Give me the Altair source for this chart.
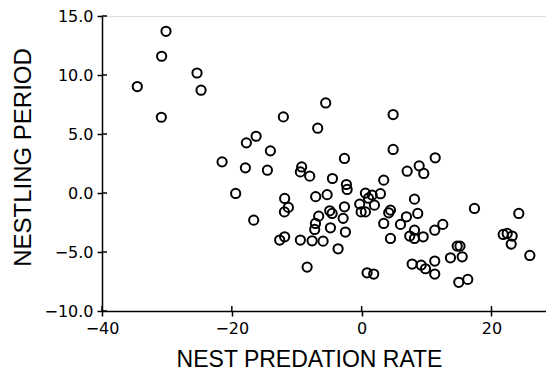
import altair as alt
import pandas as pd

# Nest predation rate (x) and nestling period (y) residuals
predation = [
    -34.56, -30.14, -30.81, -25.36, -24.74, -30.86, -12.06, -16.26, -17.76, -14.06,
    -21.50, -17.91, -14.52, -19.41, -5.54, -6.77, 4.85, 4.85, -2.65, 11.33,
    -9.24, -9.44, -8.00, -4.50, 7.01, 8.86, 9.57, 3.40, -2.35, -2.24,
    -11.86, -7.08, -5.32, 0.58, 1.62, 2.89, 8.14, -11.29, -11.90, -6.62,
    -7.12, -7.23, -4.92, -4.55, -2.65, -2.85, -4.81, -2.50, -0.30, -0.08,
    0.58, 1.97, 1.05, 4.44, 4.17, 3.40, 5.98, 6.90, 8.64, 8.14,
    7.41, 8.14, 9.48, 4.44, 11.26, 12.50, 17.38, 24.21, 21.81, 22.42,
    23.19, 23.04, 25.91, 14.72, 15.15, 15.49, 13.68, 11.26, 7.78, 9.17,
    9.83, 11.26, 14.96, 16.35, 0.84, 1.86, -8.40, -3.63, -9.44, -7.63,
    -5.94, -12.63, -11.86, -16.63,
]
nestling = [
    9.02, 13.70, 11.59, 10.17, 8.71, 6.42, 6.45, 4.81, 4.25, 3.57,
    2.64, 2.13, 1.93, -0.04, 7.63, 5.49, 6.65, 3.69, 2.93, 2.98,
    2.21, 1.79, 1.43, 1.23, 1.85, 2.30, 1.66, 1.09, 0.72, 0.30,
    -0.46, -0.31, -0.14, -0.01, -0.18, -0.06, -0.52, -1.22, -1.60, -1.96,
    -2.58, -3.09, -1.51, -1.73, -1.17, -2.15, -2.95, -3.31, -0.94, -1.60,
    -1.60, -1.03, -0.44, -1.45, -1.68, -2.58, -2.66, -2.02, -1.73, -3.15,
    -3.65, -3.85, -3.71, -3.85, -3.15, -2.66, -1.31, -1.73, -3.51, -3.43,
    -3.65, -4.33, -5.29, -4.50, -4.50, -5.41, -5.49, -5.77, -6.02, -6.11,
    -6.42, -6.87, -7.57, -7.32, -6.76, -6.87, -6.28, -4.73, -3.99, -4.05,
    -4.08, -3.99, -3.71, -2.30,
]
x_ticks = [-40, -20, 0, 20]
y_ticks = [-10, -5, 0, 5, 10, 15]

df = pd.DataFrame({"rate": predation, "period": nestling})
xt = pd.DataFrame({"v": x_ticks})
yt = pd.DataFrame({"v": y_ticks})

W, H = 444, 295
LFONT = "DejaVu Sans"
TFONT = "Liberation Sans"

xscale = alt.Scale(domain=[-40, 28.4], nice=False, zero=False)
yscale = alt.Scale(domain=[-10, 15], nice=False, zero=False)

common = dict(grid=False, tickSize=5, tickWidth=1.5, domainWidth=1.5,
              domainColor="black", tickColor="black", labelFontSize=16,
              labelFont=LFONT, labelColor="black", labelFlush=False,
              labelOverlap=False, titleFont=TFONT, titleFontWeight="normal",
              titleColor="black")

pts = alt.Chart(df).mark_point(
    shape="circle", filled=False, color="black", size=85, strokeWidth=2, opacity=1
).encode(
    x=alt.X("rate:Q", scale=xscale, title="NEST PREDATION RATE",
            axis=alt.Axis(values=x_ticks, format="d", labelPadding=4,
                          titleFontSize=23, titleX=207, titleY=55,
                          titleBaseline="alphabetic", **common)),
    y=alt.Y("period:Q", scale=yscale, title="NESTLING PERIOD",
            axis=alt.Axis(values=y_ticks, format=".1f", labelPadding=4,
                          titleFontSize=24, titlePadding=8, titleY=141,
                          **common)),
)

inner_y = alt.Chart(yt).mark_rule(color="black", strokeWidth=1.5).encode(
    y=alt.Y("v:Q", scale=yscale), x=alt.value(0), x2=alt.value(5)
)
inner_x = alt.Chart(xt).mark_rule(color="black", strokeWidth=1.5).encode(
    x=alt.X("v:Q", scale=xscale), y=alt.value(H), y2=alt.value(H - 5)
)

chart = alt.layer(pts, inner_y, inner_x).properties(
    width=W, height=H,
    autosize=alt.AutoSizeParams(type="none"),
    padding={"left": 94, "top": 8, "right": 0, "bottom": 60},
).configure_view(stroke=None).configure(background="white")

chart.save("out.html", embed_options={"renderer": "svg", "actions": False})
